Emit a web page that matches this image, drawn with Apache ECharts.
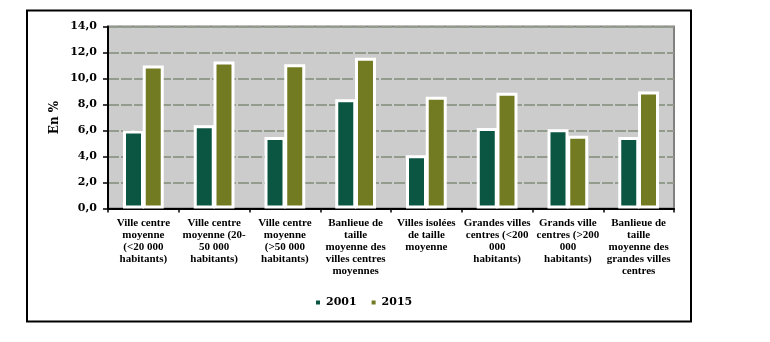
<!DOCTYPE html>
<html>
<head>
<meta charset="utf-8">
<script src="https://cdn.jsdelivr.net/npm/echarts@6/dist/echarts.min.js"></script>
<style>html,body{margin:0;padding:0;background:#fff}#c{width:770px;height:342px}</style>
</head>
<body>
<div id="c"></div>
<script>
var categories = [
  "Ville centre\nmoyenne\n(<20 000\nhabitants)",
  "Ville centre\nmoyenne (20-\n50 000\nhabitants)",
  "Ville centre\nmoyenne\n(>50 000\nhabitants)",
  "Banlieue de\ntaille\nmoyenne des\nvilles centres\nmoyennes",
  "Villes isolées\nde taille\nmoyenne",
  "Grandes villes\ncentres (<200\n000\nhabitants)",
  "Grands ville\ncentres (>200\n000\nhabitants)",
  "Banlieue de\ntaille\nmoyenne des\ngrandes villes\ncentres"
];
var values2001 = [6.0, 6.4, 5.5, 8.4, 4.1, 6.2, 6.1, 5.5];
var values2015 = [11.0, 11.3, 11.1, 11.6, 8.6, 8.9, 5.6, 9.0];
var yTicks = [0, 2, 4, 6, 8, 10, 12, 14];

var chart = echarts.init(document.getElementById('c'), null, {renderer: 'canvas'});
chart.setOption({
  animation: false,
  graphic: [{
    type: 'rect', shape: {x: 27, y: 10.5, width: 664, height: 311},
    style: {fill: 'none', stroke: '#000', lineWidth: 2}, z: 10
  }],
  grid: {left: 108, top: 26.5, right: 96, bottom: 133.5, show: true,
         backgroundColor: '#cccccc', borderColor: '#808080', borderWidth: 2},
  legend: {
    left: 309, top: 292, itemWidth: 6, itemHeight: 6, itemGap: 13,
    icon: 'rect',
    textStyle: {fontFamily: 'DejaVu Serif', fontWeight: 'bold', fontSize: 11, color: '#000'},
    data: ['2001', '2015']
  },
  xAxis: {
    type: 'category', data: categories,
    axisLine: {show: true, lineStyle: {color: '#000', width: 2}},
    axisTick: {show: true, length: 4, lineStyle: {color: '#000', width: 1.5}},
    axisLabel: {interval: 0, margin: 9, fontFamily: 'Liberation Serif', fontWeight: 'bold',
                fontSize: 11, lineHeight: 12, color: '#000'}
  },
  yAxis: {
    type: 'value', min: 0, max: 14, interval: 2,
    name: 'En %', nameLocation: 'middle', nameGap: 47, nameRotate: 90, nameMoveOverlap: false,
    nameTextStyle: {fontFamily: 'DejaVu Serif', fontWeight: 'bold', fontSize: 12, color: '#000'},
    axisLine: {show: true, lineStyle: {color: '#000', width: 2}},
    axisTick: {show: true, length: 5, lineStyle: {color: '#000', width: 1.5}},
    axisLabel: {margin: 11, fontFamily: 'DejaVu Serif', fontWeight: 'bold', fontSize: 11, color: '#000',
                formatter: function (v) { return yTicks.indexOf(v) >= 0 ? v.toFixed(1).replace('.', ',') : ''; }},
    splitLine: {show: true, lineStyle: {color: '#929b8c', width: 2, type: [11, 2]}}
  },
  series: [
    {name: '2001', type: 'bar', data: values2001, barWidth: 21, barGap: '-6%',
     itemStyle: {color: '#0a5642', borderColor: '#fff', borderWidth: 3}},
    {name: '2015', type: 'bar', data: values2015, barWidth: 21,
     itemStyle: {color: '#737b22', borderColor: '#fff', borderWidth: 3}}
  ]
});
</script>
</body>
</html>
